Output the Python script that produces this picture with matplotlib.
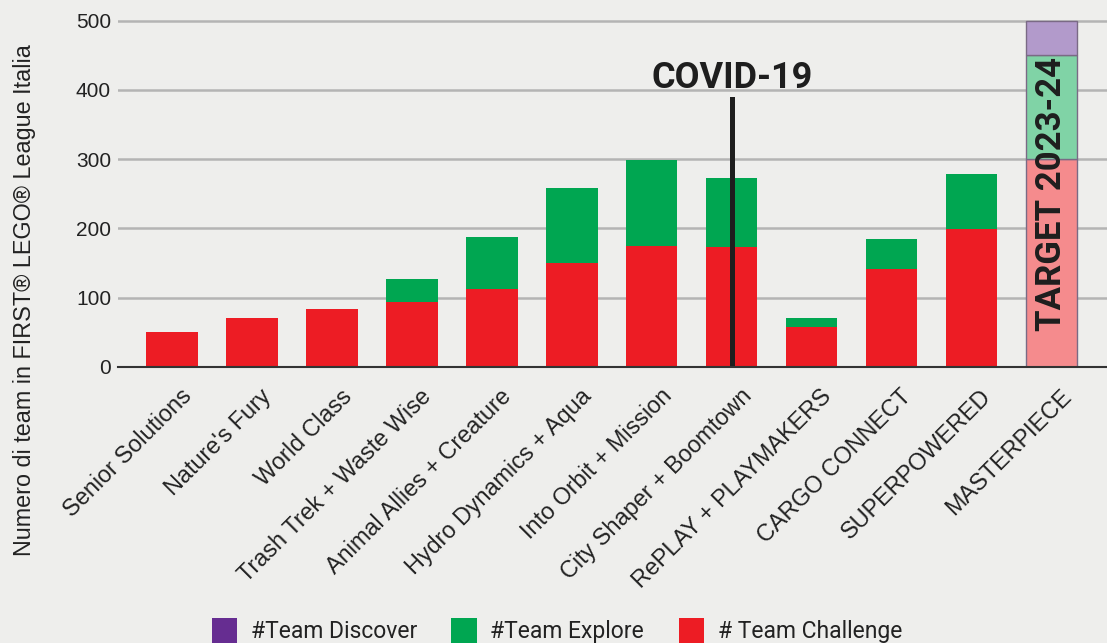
import matplotlib.pyplot as plt
import matplotlib.transforms as mtransforms
from matplotlib.patches import Patch

# data
seasons = ["Senior Solutions", "Nature's Fury", "World Class", "Trash Trek + Waste Wise",
           "Animal Allies + Creature", "Hydro Dynamics + Aqua", "Into Orbit + Mission",
           "City Shaper + Boomtown", "RePLAY + PLAYMAKERS", "CARGO CONNECT",
           "SUPERPOWERED", "MASTERPIECE"]
team_challenge = [50, 70, 84, 93, 113, 150, 175, 173, 58, 141, 199]
team_explore = [0, 0, 0, 34, 74, 108, 123, 99, 12, 43, 79]
target_challenge = 300
target_explore = 150
target_discover = 50
covid_index = 7
covid_line_top = 387

RED = "#ED1C24"
GREEN = "#00A651"
PURPLE = "#662D91"
BG = "#eeeeec"

plt.rcParams['font.family'] = ['Liberation Sans', 'DejaVu Sans']

fig = plt.figure(figsize=(11.07, 6.43), dpi=100, facecolor=BG)
ax = fig.add_axes([0.1066, 0.4297, 0.8934, 0.5596])
ax.set_facecolor(BG)

x = list(range(len(team_challenge)))
w = 0.64
ax.bar(x, team_challenge, width=w, color=RED, zorder=3)
ax.bar(x, team_explore, width=w, bottom=team_challenge, color=GREEN, zorder=3)

# target bar for the last season
xt = len(seasons) - 1
edge = "#7a6a85"
ax.bar(xt, target_challenge, width=w, color="#F58B8D", edgecolor=edge, linewidth=1, zorder=3)
ax.bar(xt, target_explore, width=w, bottom=target_challenge, color="#80D3A6",
       edgecolor=edge, linewidth=1, zorder=3)
ax.bar(xt, target_discover, width=w, bottom=target_challenge + target_explore,
       color="#B29ACB", edgecolor=edge, linewidth=1, zorder=3)
ax.text(xt, (target_challenge + target_explore + target_discover) / 2, "TARGET 2023-24",
        rotation=90, ha='center', va='center', fontsize=25, fontweight='bold',
        family='Roboto', color='#1e1e1e', zorder=5)

# covid marker
ax.plot([covid_index, covid_index], [0, covid_line_top], color='#1e1e1e', lw=3.6, zorder=4)
ax.text(covid_index, 403, "COVID-19", ha='center', va='baseline', fontsize=26,
        fontweight='bold', family='Roboto', color='#1e1e1e', zorder=5)

ax.set_xlim(-0.675, 11.69)
ax.set_ylim(0, 520)
ax.set_yticks([0, 100, 200, 300, 400, 500])
ax.grid(axis='y', color='#b4b4b4', lw=1.8, zorder=0)
ax.set_axisbelow(True)
for s in ['top', 'right', 'left']:
    ax.spines[s].set_visible(False)
ax.spines['bottom'].set_color('#333333')
ax.spines['bottom'].set_linewidth(1.5)
ax.spines['bottom'].set_zorder(4)
ax.tick_params(axis='y', length=0, labelsize=15, pad=5, labelcolor='#222222')
ax.tick_params(axis='x', length=0, pad=13)
ax.set_xticks(range(len(seasons)))
ax.set_xticklabels(seasons, rotation=45, ha='right', rotation_mode='anchor',
                   fontsize=16.8, color='#222222')
shift = mtransforms.ScaledTranslation(0.08, 0, fig.dpi_scale_trans)
for lbl in ax.get_xticklabels():
    lbl.set_transform(lbl.get_transform() + shift)

fig.text(0.022, 0.533, "Numero di team in FIRST\u00ae LEGO\u00ae League Italia",
         rotation=90, ha='center', va='center', fontsize=16.8, color='#222222')

handles = [Patch(facecolor=PURPLE, label="#Team Discover"),
           Patch(facecolor=GREEN, label="#Team Explore"),
           Patch(facecolor=RED, label="# Team Challenge")]
fig.legend(handles=handles, loc='center', bbox_to_anchor=(0.503, 0.02), ncol=3,
           frameon=False, prop={'family': 'Roboto', 'size': 16.5}, handlelength=1.1,
           handleheight=1.3, handletextpad=0.6, columnspacing=1.5, labelcolor='#222222')

fig.savefig("out.png", dpi=100, facecolor=BG)
